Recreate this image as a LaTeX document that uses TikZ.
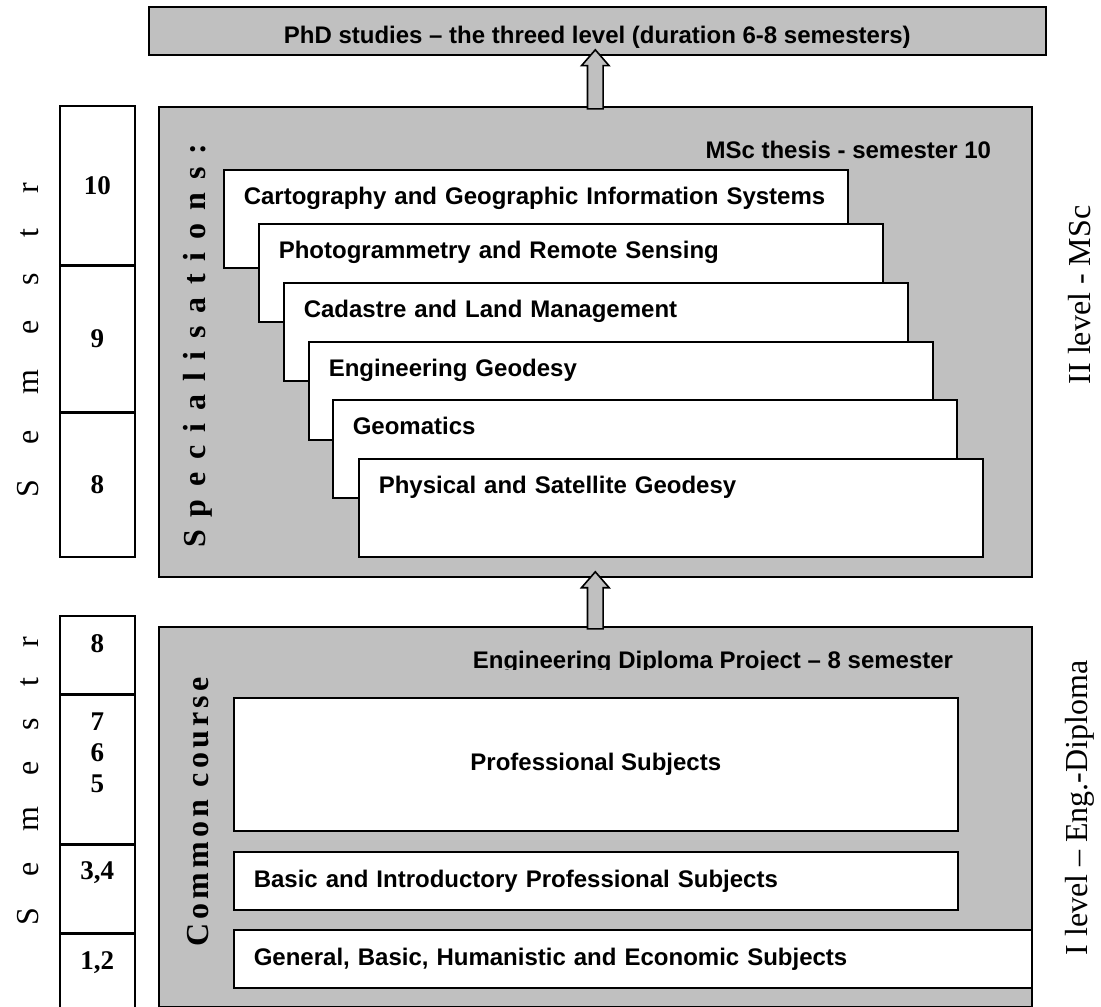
\documentclass[tikz,border=0pt]{standalone}
\usepackage{fontspec}
\setmainfont{Liberation Sans}
\newfontfamily\timesfont{Liberation Serif}
\usetikzlibrary{shapes,arrows,positioning}

\definecolor{boxgray}{RGB}{192,192,192}

\tikzstyle{level} = [draw, fill=boxgray, line width=1.6pt, anchor=north west,
    inner sep=0pt]
\tikzstyle{spec} = [draw, fill=white, line width=1.6pt, anchor=north west,
    align=left, inner xsep=20pt, inner ysep=0pt, text width=584pt,
    text height=35pt, text depth=63pt]
\tikzstyle{subj} = [draw, fill=white, line width=1.6pt, anchor=north west,
    inner ysep=0pt, inner xsep=20pt]
\tikzstyle{cell} = [draw, fill=white, line width=1.6pt, anchor=north west,
    minimum width=75pt, inner sep=0pt,
    font={\timesfont\bfseries\fontsize{27}{31}\selectfont}]
\tikzstyle{num} = [font={\timesfont\bfseries\fontsize{27}{31}\selectfont},
    inner sep=0pt, align=center]
\tikzstyle{upar} = [single arrow, draw, fill=boxgray, line width=1.6pt,
    rotate=90, anchor=tip, inner sep=7pt, single arrow head extend=6pt,
    single arrow tip angle=82, minimum height=59pt, minimum width=26pt]
\tikzstyle{vert} = [rotate=90, inner sep=0pt]

\begin{document}
\begin{tikzpicture}[x=1pt, y=-1pt, font=\bfseries\fontsize{24}{28}\selectfont]
  \useasboundingbox (0,0) rectangle (1101,1007);

  % third level
  \node [level, minimum width=897pt, text height=37pt, text depth=11pt]
    (phd) at (148,6) {PhD studies – the threed level (duration 6-8 semesters)};

  % MSc level
  \node [level, minimum width=873pt, minimum height=470pt] (msc) at (158,106) {};
  \node [anchor=base east] (msct) at ([xshift=-38pt, yshift=-52pt]msc.north east)
    {MSc thesis - semester 10};
  \node [spec] (s1) at (223,169) {Cartography and Geographic Information Systems};
  \node [spec] (s2) at ([xshift=35pt, yshift=-54pt]s1.north west) {Photogrammetry and Remote Sensing};
  \node [spec] (s3) at ([xshift=25pt, yshift=-59pt]s2.north west) {Cadastre and Land Management};
  \node [spec] (s4) at ([xshift=25pt, yshift=-59pt]s3.north west) {Engineering Geodesy};
  \node [spec] (s5) at ([xshift=24pt, yshift=-58pt]s4.north west) {Geomatics};
  \node [spec] (s6) at ([xshift=26pt, yshift=-59pt]s5.north west) {Physical and Satellite Geodesy};
  \node [vert, font={\timesfont\bfseries\fontsize{32}{36}\selectfont\addfontfeature{LetterSpace=40}}]
    (spl) at ([xshift=40pt, yshift=-4pt]msc.west) {Specialisations:};

  % Eng.-Diploma level
  \node [level, minimum width=873pt, minimum height=380pt] (low) at (158,626) {};
  \begin{scope}
    \clip (low.north west) rectangle ([yshift=-43pt]low.north east);
    \node [anchor=base east] (edp) at ([xshift=-76pt, yshift=-42pt]low.north east)
      {Engineering Diploma Project – 8 semester};
  \end{scope}
  \node [subj, minimum width=724pt, minimum height=133pt] (prof) at (233,697) {Professional Subjects};
  \node [subj, align=left, text width=684pt, minimum height=58pt] (basic) at (233,851)
    {Basic and Introductory Professional Subjects};
  \node [subj, align=left, text width=758pt, minimum height=58pt] (gen) at (233,929)
    {General, Basic, Humanistic and Economic Subjects};
  \node [vert, font={\timesfont\bfseries\fontsize{32}{36}\selectfont\addfontfeature{LetterSpace=13}}]
    (cc) at (198,812) {Common course};

  \node [upar] (up1) at ([yshift=7pt]phd.south -| msc.north) {};
  \node [upar, minimum height=57pt] (up2) at ([yshift=7pt]msc.south) {};

  % semesters
  \node [cell, minimum height=159pt] (c10) at (59,105) {10};
  \node [cell, minimum height=145pt] (c9) at (c10.south west) {9};
  \node [cell, minimum height=144pt] (c8) at (c9.south west) {8};
  \node [cell, minimum height=78pt] (d8) at (59,615) {};
  \node [cell, minimum height=148pt] (d765) at (d8.south west) {};
  \node [cell, minimum height=88pt] (d34) at (d765.south west) {};
  \node [cell, minimum height=82pt] (d12) at (d34.south west) {};
  \node [num, below=19pt of d8.north] (n8) {8};
  \node [num, below=18pt of d765.north] (n765) {7\\6\\5};
  \node [num, below=17pt of d34.north] (n34) {3,4};
  \node [num, below=18pt of d12.north] (n12) {1,2};
  \node [vert, font={\timesfont\fontsize{32}{36}\selectfont\addfontfeature{LetterSpace=110}}]
    (sem1) at (28,340) {Semestr};
  \node [vert, font={\timesfont\fontsize{32}{36}\selectfont\addfontfeature{LetterSpace=97}}]
    (sem2) at (28,781) {Semestr};

  % levels
  \node [vert, font={\timesfont\fontsize{32}{36}\selectfont}] (lev2) at (1080,295) {II level - MSc};
  \node [vert, font={\timesfont\fontsize{32}{36}\selectfont}] (lev1) at (1080,808) {I level – Eng.-Diploma};
\end{tikzpicture}
\end{document}
